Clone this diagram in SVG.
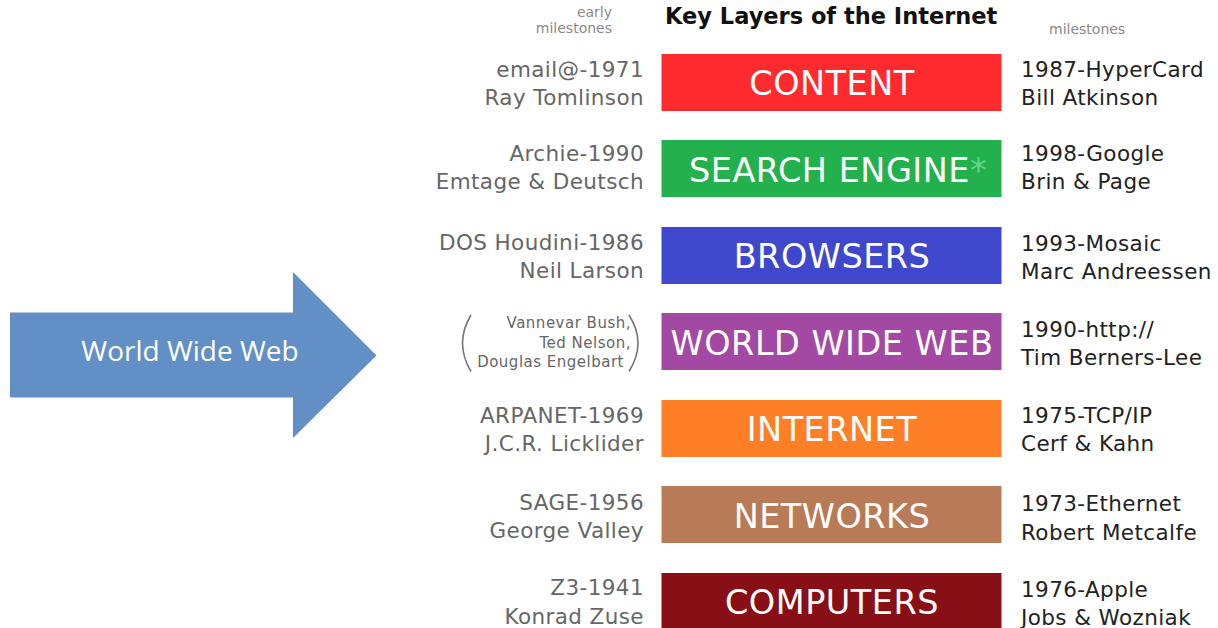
<svg xmlns="http://www.w3.org/2000/svg" width="1218" height="628" viewBox="0 0 1218 628">
<style>
.bg{fill:#ffffff}
.bar{stroke:none}
.bt{font-family:"DejaVu Sans",Verdana,sans-serif;font-size:33.5px;fill:#ffffff;letter-spacing:0.5px;text-anchor:middle}
.lt{font-family:"DejaVu Sans",Verdana,sans-serif;font-size:21.5px;fill:#666666;letter-spacing:0.4px;text-anchor:end}
.rt{font-family:"DejaVu Sans",Verdana,sans-serif;font-size:21.5px;fill:#222222;letter-spacing:0.4px}
.sm{font-family:"DejaVu Sans",Verdana,sans-serif;font-size:15px;fill:#666666;letter-spacing:0.5px;text-anchor:end}
.hd{font-family:"DejaVu Sans",Verdana,sans-serif;font-size:14px;fill:#8a8a8a}
.title{font-family:"DejaVu Sans",Verdana,sans-serif;font-size:22.5px;font-weight:bold;fill:#111111}
.paren{fill:none;stroke:#777777;stroke-width:1.6}
</style>
<rect class="bg" x="0" y="0" width="1218" height="628"/>

<g id="header">
<text class="hd" x="612" y="17" text-anchor="end">early</text>
<text class="hd" x="612" y="33" text-anchor="end">milestones</text>
<text class="title" x="665" y="24">Key Layers of the Internet</text>
<text class="hd" x="1049" y="34">milestones</text>
</g>

<g id="arrow">
<path d="M10,312.5 L293,312.5 L293,272 L376.5,355.5 L293,438 L293,397.5 L10,397.5 Z" fill="#6290c6"/>
<text x="190" y="360.5" font-family="'Open Sans',sans-serif" font-size="28" fill="#ffffff" text-anchor="middle">World Wide Web</text>
</g>

<g id="content">
<rect class="bar" x="661.5" y="54" width="340" height="57" fill="#fe2a2d"/>
<text class="bt" x="832" y="95">CONTENT</text>
<text class="lt" x="644" y="77">email@-1971</text>
<text class="lt" x="644" y="105">Ray Tomlinson</text>
<text class="rt" x="1021" y="77">1987-HyperCard</text>
<text class="rt" x="1021" y="105">Bill Atkinson</text>
</g>

<g id="search-engine">
<rect class="bar" x="661.5" y="140" width="340" height="57" fill="#22b14c"/>
<text class="bt" x="689" y="181.5" style="text-anchor:start">SEARCH ENGINE<tspan fill="#67d487">*</tspan></text>
<text class="lt" x="644" y="161">Archie-1990</text>
<text class="lt" x="644" y="189">Emtage &amp; Deutsch</text>
<text class="rt" x="1021" y="161">1998-Google</text>
<text class="rt" x="1021" y="189">Brin &amp; Page</text>
</g>

<g id="browsers">
<rect class="bar" x="661.5" y="227" width="340" height="57" fill="#3f48cc"/>
<text class="bt" x="832" y="268">BROWSERS</text>
<text class="lt" x="644" y="250">DOS Houdini-1986</text>
<text class="lt" x="644" y="278">Neil Larson</text>
<text class="rt" x="1021" y="250.5">1993-Mosaic</text>
<text class="rt" x="1021" y="279">Marc Andreessen</text>
</g>

<g id="world-wide-web">
<rect class="bar" x="661.5" y="313" width="340" height="57" fill="#a349a4"/>
<text class="bt" x="832" y="354.5">WORLD WIDE WEB</text>
<path class="paren" d="M471,315 Q454,343 471,371.5"/>
<path class="paren" d="M629,315 Q647,343 629,371.5"/>
<text class="sm" x="631" y="327.5">Vannevar Bush,</text>
<text class="sm" x="631" y="347.5">Ted Nelson,</text>
<text class="sm" x="624" y="367">Douglas Engelbart</text>
<text class="rt" x="1021" y="336.5">1990-http://</text>
<text class="rt" x="1021" y="365">Tim Berners-Lee</text>
</g>

<g id="internet">
<rect class="bar" x="661.5" y="400" width="340" height="57" fill="#ff7f27"/>
<text class="bt" x="832" y="441">INTERNET</text>
<text class="lt" x="644" y="422.5">ARPANET-1969</text>
<text class="lt" x="644" y="451">J.C.R. Licklider</text>
<text class="rt" x="1021" y="422.5">1975-TCP/IP</text>
<text class="rt" x="1021" y="451">Cerf &amp; Kahn</text>
</g>

<g id="networks">
<rect class="bar" x="661.5" y="486" width="340" height="57" fill="#b97a57"/>
<text class="bt" x="832" y="527.5">NETWORKS</text>
<text class="lt" x="644" y="510">SAGE-1956</text>
<text class="lt" x="644" y="538">George Valley</text>
<text class="rt" x="1021" y="511">1973-Ethernet</text>
<text class="rt" x="1021" y="539.5">Robert Metcalfe</text>
</g>

<g id="computers">
<rect class="bar" x="661.5" y="573" width="340" height="57" fill="#880f15"/>
<text class="bt" x="832" y="614">COMPUTERS</text>
<text class="lt" x="644" y="595">Z3-1941</text>
<text class="lt" x="644" y="623.5">Konrad Zuse</text>
<text class="rt" x="1021" y="596.5">1976-Apple</text>
<text class="rt" x="1021" y="625">Jobs &amp; Wozniak</text>
</g>

<g id="connectors"></g>
</svg>
